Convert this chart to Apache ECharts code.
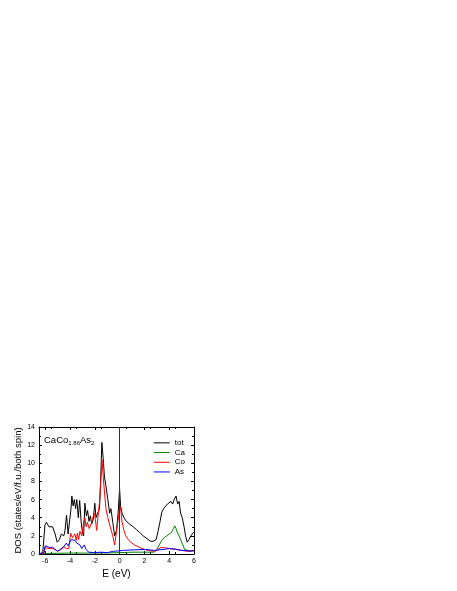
<!DOCTYPE html>
<html>
<head>
<meta charset="utf-8">
<script src="https://cdn.jsdelivr.net/npm/echarts@6/dist/echarts.min.js"></script>
<style>
  html, body { margin: 0; padding: 0; background: #fff; }
  #chart { width: 457px; height: 591px; }
</style>
</head>
<body>
<div id="chart"></div>
<script>
// energy (eV) / DOS pairs
var totE = [-6.5, -6.2, -6.1, -6.02, -5.9, -5.83, -5.7, -5.55, -5.4, -5.2, -5.03, -4.85, -4.7, -4.5, -4.4, -4.28, -4.15, -4.02, -3.92, -3.85, -3.75, -3.65, -3.55, -3.45, -3.33, -3.22, -3.1, -3.0, -2.9, -2.8, -2.68, -2.58, -2.47, -2.36, -2.25, -2.13, -2.0, -1.9, -1.75, -1.62, -1.52, -1.43, -1.32, -1.22, -1.1, -0.95, -0.8, -0.7, -0.55, -0.4, -0.25, -0.12, 0, 0.08, 0.2, 0.35, 0.55, 0.8, 1.1, 1.35, 1.6, 1.9, 2.2, 2.5, 2.7, 2.82, 2.95, 3.1, 3.25, 3.4, 3.55, 3.7, 3.85, 4.0, 4.15, 4.28, 4.4, 4.55, 4.68, 4.8, 4.92, 5.05, 5.2, 5.32, 5.45, 5.6, 5.75, 5.9, 6.0];
var totV = [0.05, 0.1, 0.3, 3.2, 3.5, 3.3, 3.0, 2.8, 3.0, 2.2, 1.3, 1.6, 2.2, 2.0, 2.6, 4.3, 2.2, 2.0, 5.0, 6.4, 5.3, 6.0, 5.0, 6.0, 4.0, 5.9, 3.5, 2.4, 2.0, 5.6, 4.2, 4.8, 3.6, 4.2, 3.3, 3.8, 5.6, 4.0, 4.2, 5.0, 8.5, 12.3, 10.5, 8.5, 7.5, 6.0, 4.5, 5.0, 3.5, 2.0, 2.6, 4.5, 7.2, 5.3, 4.5, 4.0, 3.6, 3.3, 3.0, 2.7, 2.4, 2.0, 1.7, 1.4, 1.4, 1.2, 1.6, 2.5, 3.5, 4.6, 5.0, 5.2, 5.5, 5.3, 5.8, 5.5, 6.0, 6.4, 5.5, 5.8, 4.5, 4.0, 3.0, 2.0, 1.3, 1.6, 2.0, 2.3, 2.4];

var caE = [-6.5, -6.0, -5.0, -4.0, -3.0, -2.0, -1.0, 0, 1.0, 2.0, 2.8, 3.0, 3.2, 3.4, 3.6, 3.8, 4.0, 4.2, 4.35, 4.45, 4.55, 4.65, 4.72, 4.8, 4.95, 5.1, 5.25, 5.4, 5.6, 6.0];
var caV = [0.0, 0.05, 0.08, 0.1, 0.1, 0.1, 0.12, 0.15, 0.2, 0.2, 0.2, 0.5, 1.0, 1.5, 1.8, 2.0, 2.2, 2.4, 2.8, 3.1, 2.8, 2.4, 2.6, 2.0, 1.5, 1.0, 0.5, 0.3, 0.35, 0.4];

var coE = [-6.5, -6.1, -6.0, -5.7, -5.4, -5.2, -5.0, -4.7, -4.5, -4.3, -4.1, -3.95, -3.8, -3.6, -3.5, -3.4, -3.3, -3.2, -3.05, -2.9, -2.8, -2.7, -2.6, -2.45, -2.3, -2.15, -2.05, -1.95, -1.85, -1.75, -1.6, -1.5, -1.42, -1.32, -1.2, -1.1, -0.95, -0.8, -0.7, -0.55, -0.4, -0.3, -0.15, 0.03, 0.1, 0.2, 0.35, 0.5, 0.7, 0.9, 1.2, 1.5, 2.0, 2.5, 2.8, 3.0, 3.3, 3.6, 4.0, 4.5, 5.0, 5.5, 5.8, 6.0];
var coV = [0.0, 0.1, 0.7, 0.6, 0.6, 0.5, 0.3, 0.5, 0.8, 0.6, 0.6, 2.3, 1.8, 2.2, 1.5, 2.3, 1.6, 2.5, 2.0, 3.5, 4.0, 3.0, 3.5, 2.8, 3.3, 3.2, 4.5, 3.8, 2.6, 4.0, 6.0, 8.5, 10.4, 8.5, 6.5, 5.0, 4.0, 3.2, 3.0, 2.0, 1.0, 1.2, 3.5, 5.2, 4.8, 3.5, 2.6, 2.0, 1.6, 1.3, 1.0, 0.8, 0.5, 0.35, 0.3, 0.4, 0.7, 0.7, 0.6, 0.5, 0.4, 0.3, 0.35, 0.4];

var asE = [-6.5, -6.1, -6.0, -5.9, -5.6, -5.4, -5.2, -5.0, -4.8, -4.5, -4.3, -4.15, -4.05, -3.9, -3.8, -3.6, -3.45, -3.35, -3.2, -3.05, -2.85, -2.7, -2.5, -2.0, -1.5, -1.0, -0.5, 0, 0.3, 1.0, 2.0, 2.8, 3.5, 4.0, 4.5, 5.0, 5.5, 5.8, 6.0];
var asV = [0.0, 0.2, 0.9, 0.8, 0.7, 0.75, 0.5, 0.3, 0.5, 0.8, 1.2, 0.9, 0.8, 1.6, 1.4, 1.5, 1.2, 1.3, 1.0, 0.6, 1.0, 0.5, 0.2, 0.15, 0.2, 0.15, 0.3, 0.35, 0.4, 0.45, 0.5, 0.4, 0.5, 0.6, 0.55, 0.4, 0.35, 0.3, 0.35];

var xTicks = [-6, -4, -2, 0, 2, 4, 6];
var xMinor = [-6.5, -5, -3, -1, 1, 3, 5];

function pairs(e, v) {
  return e.map(function (x, i) { return [x, v[i]]; });
}

var chart = echarts.init(document.getElementById('chart'));

var font = 'Liberation Sans';

function makeAxis(extra, withTicks) {
  var ax = {
    type: 'value',
    axisLine: { show: true, onZero: false, lineStyle: { color: '#000', width: 1 } },
    axisTick: { show: true, inside: true, length: 3, lineStyle: { color: '#000' } },
    minorTick: { show: true, splitNumber: 2, length: 2, lineStyle: { color: '#000' } },
    splitLine: { show: false },
    minorSplitLine: { show: false }
  };
  Object.keys(extra).forEach(function (k) { ax[k] = extra[k]; });
  return ax;
}

function lineSeries(name, color, data, xi, yi) {
  return {
    name: name,
    type: 'line',
    data: data,
    showSymbol: false,
    symbol: 'none',
    animation: false,
    lineStyle: { color: color, width: 1 },
    itemStyle: { color: color }
  };
}

var tot = lineSeries('tot', '#000000', pairs(totE, totV));
tot.markLine = {
  silent: true,
  symbol: 'none',
  label: { show: false },
  lineStyle: { color: '#333', type: 'solid', width: 1 },
  data: [{ xAxis: 0 }]
};

var legendIcon = 'path://M0,0 L16,0 L16,1 L0,1 Z';

chart.setOption({
  animation: false,
  grid: { left: 39, top: 427, right: 263, bottom: 37 },
  legend: {
    data: [
      { name: 'tot', icon: legendIcon },
      { name: 'Ca', icon: legendIcon },
      { name: 'Co', icon: legendIcon },
      { name: 'As', icon: legendIcon }
    ],
    orient: 'vertical',
    right: 267,
    top: 433,
    itemWidth: 16,
    itemHeight: 1,
    itemGap: 0,
    textStyle: { fontFamily: font, fontSize: 8, color: '#000', lineHeight: 9.7 }
  },
  graphic: [{
    type: 'text',
    left: 44,
    top: 434,
    style: {
      text: '{a|CaCo}{s|1.86}{a|As}{s|2}',
      rich: {
        a: { fontFamily: font, fontSize: 9.5, fill: '#000', lineHeight: 12 },
        s: { fontFamily: font, fontSize: 6, fill: '#000', lineHeight: 12, padding: [6, 0, 0, 0] }
      }
    }
  }],
  xAxis: [
    makeAxis({
      min: -6.5, max: 6, interval: 2,
      name: 'E (eV)', nameLocation: 'middle', nameGap: 15,
      nameTextStyle: { fontFamily: font, fontSize: 10, color: '#000' },
      axisLabel: { fontFamily: font, fontSize: 7, color: '#000', margin: 4, customValues: xTicks },
      axisTick: { show: true, inside: true, length: 3, lineStyle: { color: '#000' }, customValues: xTicks }
    }),
    makeAxis({
      min: -6.5, max: 6, interval: 2, position: 'top',
      axisLabel: { show: false },
      axisTick: { show: true, inside: true, length: 3, lineStyle: { color: '#000' }, customValues: xTicks }
    })
  ],
  yAxis: [
    makeAxis({
      min: 0, max: 14, interval: 2,
      name: 'DOS (states/eV/f.u./both spin)', nameLocation: 'middle', nameGap: 16,
      nameTextStyle: { fontFamily: font, fontSize: 9.5, color: '#000' },
      axisLabel: { fontFamily: font, fontSize: 7, color: '#000', margin: 4 }
    }),
    makeAxis({
      min: 0, max: 14, interval: 2, position: 'right',
      axisLabel: { show: false }
    })
  ],
  series: [
    tot,
    lineSeries('Ca', '#008000', pairs(caE, caV)),
    lineSeries('Co', '#ff0000', pairs(coE, coV)),
    lineSeries('As', '#0000ff', pairs(asE, asV))
  ]
});
</script>
</body>
</html>
